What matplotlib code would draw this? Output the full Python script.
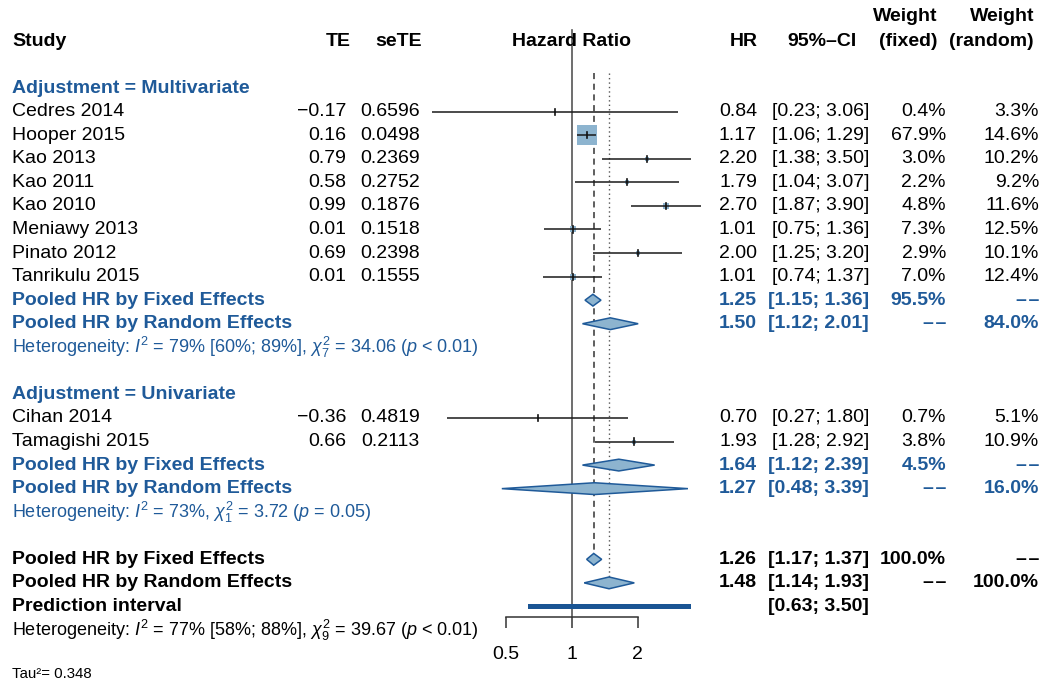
import matplotlib
matplotlib.use("Agg")
import matplotlib.pyplot as plt
import matplotlib.transforms as mtransforms
from matplotlib.patches import Polygon
import numpy as np

plt.rcParams['font.family'] = ['Liberation Sans', 'DejaVu Sans']
plt.rcParams['mathtext.fontset'] = 'custom'
plt.rcParams['mathtext.rm'] = 'Liberation Sans'
plt.rcParams['mathtext.it'] = 'Liberation Sans:italic'
plt.rcParams['mathtext.bf'] = 'Liberation Sans:bold'

# ---------------- data ----------------
studies = ["Cedres 2014", "Hooper 2015", "Kao 2013", "Kao 2011", "Kao 2010",
           "Meniawy 2013", "Pinato 2012", "Tanrikulu 2015",
           "Cihan 2014", "Tamagishi 2015"]
groups = ["Multivariate"] * 8 + ["Univariate"] * 2
te = ["\u22120.17", "0.16", "0.79", "0.58", "0.99", "0.01", "0.69", "0.01",
      "\u22120.36", "0.66"]
sete = ["0.6596", "0.0498", "0.2369", "0.2752", "0.1876", "0.1518", "0.2398",
        "0.1555", "0.4819", "0.2113"]
hr = [0.84, 1.17, 2.20, 1.79, 2.70, 1.01, 2.00, 1.01, 0.70, 1.93]
ci_lo = [0.23, 1.06, 1.38, 1.04, 1.87, 0.75, 1.25, 0.74, 0.27, 1.28]
ci_hi = [3.06, 1.29, 3.50, 3.07, 3.90, 1.36, 3.20, 1.37, 1.80, 2.92]
w_fixed = [0.4, 67.9, 3.0, 2.2, 4.8, 7.3, 2.9, 7.0, 0.7, 3.8]
w_random = [3.3, 14.6, 10.2, 9.2, 11.6, 12.5, 10.1, 12.4, 5.1, 10.9]

# subgroup pooled results: (HR, lo, hi, weight)
sub_names = ["Multivariate", "Univariate"]
sub_fixed = [(1.25, 1.15, 1.36, "95.5%"), (1.64, 1.12, 2.39, "4.5%")]
sub_random = [(1.50, 1.12, 2.01, "84.0%"), (1.27, 0.48, 3.39, "16.0%")]
sub_het = [r"Heterogeneity: $I^2$ = 79% [60%; 89%], $\chi^2_7$ = 34.06 ($p$ < 0.01)",
           r"Heterogeneity: $I^2$ = 73%, $\chi^2_1$ = 3.72 ($p$ = 0.05)"]

overall_fixed = (1.26, 1.17, 1.37)
overall_random = (1.48, 1.14, 1.93)
pred_interval = (0.63, 3.50)
overall_het = r"Heterogeneity: $I^2$ = 77% [58%; 88%], $\chi^2_9$ = 39.67 ($p$ < 0.01)"
tau2_text = "Tau\u00b2= 0.348"

xticks = [0.5, 1, 2]

# ---------------- style ----------------
BLUE = "#1f5a99"
SQ = "#8db4cf"
DI_FILL = "#8db4cf"
PRED = "#1a5594"
W, H = 1045, 684
FS = 14.0
FS_HET = 13.0
DASH2 = "\u2013\u200a\u2013"

fig = plt.figure(figsize=(W / 100, H / 100), dpi=100)
ax = fig.add_axes([0, 0, 1, 1])
ax.set_xscale('log', base=2)
x1_px, px_per_oct = 571.7, 66.0
ax.set_xlim(2 ** ((0 - x1_px) / px_per_oct), 2 ** ((W - x1_px) / px_per_oct))
y0_px, row_px = 41.0, 23.56
ax.set_ylim((H - y0_px) / row_px, -y0_px / row_px)
for s in ['top', 'left', 'right']:
    ax.spines[s].set_visible(False)
ax.patch.set_alpha(0)

trans = mtransforms.blended_transform_factory(fig.transFigure, ax.transData)


def col(xpx, y, s, ha='left', bold=False, color='black', fs=FS):
    ax.text(xpx / W, y, s, transform=trans, ha=ha, va='center',
            fontsize=fs, fontweight='bold' if bold else 'normal', color=color,
            clip_on=False)


# column anchors (pixels)
X_STUDY, X_TE, X_SE, X_HR, X_CI, X_WF, X_WR = 12, 346, 420, 757, 869, 946, 1039

# headers
col(X_STUDY, 0, "Study", bold=True)
col(351, 0, "TE", ha='right', bold=True)
col(422, 0, "seTE", ha='right', bold=True)
col(571, 0, "Hazard Ratio", ha='center', bold=True)
col(758, 0, "HR", ha='right', bold=True)
col(822, 0, "95%\u2013CI", ha='center', bold=True)
col(937, -1.06, "Weight", ha='right', bold=True)
col(937, 0, "(fixed)", ha='right', bold=True)
col(1034, -1.06, "Weight", ha='right', bold=True)
col(1034, 0, "(random)", ha='right', bold=True)


def diamond(y, est, lo, hi, h=0.25):
    poly = Polygon([[lo, y], [est, y - h], [hi, y], [est, y + h]], closed=True,
                   facecolor=DI_FILL, edgecolor=BLUE, linewidth=1.1, zorder=4)
    ax.add_patch(poly)


row = 2
for g, gname in enumerate(sub_names):
    col(X_STUDY, row, "Adjustment = " + gname, bold=True, color=BLUE)
    row += 1
    idx = [i for i in range(len(studies)) if groups[i] == gname]
    for i in idx:
        col(X_STUDY, row, studies[i])
        col(X_TE, row, te[i], ha='right')
        col(X_SE, row, sete[i], ha='right')
        col(X_HR, row, f"{hr[i]:.2f}", ha='right')
        col(X_CI, row, f"[{ci_lo[i]:.2f}; {ci_hi[i]:.2f}]", ha='right')
        col(X_WF, row, f"{w_fixed[i]:.1f}%", ha='right')
        col(X_WR, row, f"{w_random[i]:.1f}%", ha='right')
        ax.scatter([hr[i]], [row], marker='s', s=207 * w_fixed[i] / 67.9,
                   color=SQ, linewidths=0, zorder=3)
        ax.plot([ci_lo[i], ci_hi[i]], [row, row], color='#1a1a1a', lw=1.1,
                zorder=4, solid_capstyle='butt')
        ax.plot([hr[i], hr[i]], [row - 0.13, row + 0.13], color='#111111',
                lw=1.2, zorder=5)
        row += 1
    f = sub_fixed[g]
    r = sub_random[g]
    col(X_STUDY, row, "Pooled HR by Fixed Effects", bold=True, color=BLUE)
    col(X_HR, row, f"{f[0]:.2f}", ha='right', bold=True, color=BLUE)
    col(X_CI, row, f"[{f[1]:.2f}; {f[2]:.2f}]", ha='right', bold=True, color=BLUE)
    col(X_WF, row, f[3], ha='right', bold=True, color=BLUE)
    col(X_WR, row, DASH2, ha='right', bold=True, color=BLUE)
    diamond(row, f[0], f[1], f[2])
    row += 1
    col(X_STUDY, row, "Pooled HR by Random Effects", bold=True, color=BLUE)
    col(X_HR, row, f"{r[0]:.2f}", ha='right', bold=True, color=BLUE)
    col(X_CI, row, f"[{r[1]:.2f}; {r[2]:.2f}]", ha='right', bold=True, color=BLUE)
    col(X_WF, row, DASH2, ha='right', bold=True, color=BLUE)
    col(X_WR, row, r[3], ha='right', bold=True, color=BLUE)
    diamond(row, r[0], r[1], r[2])
    row += 1
    col(X_STUDY, row, sub_het[g], color=BLUE, fs=FS_HET)
    row += 2

# overall
col(X_STUDY, row, "Pooled HR by Fixed Effects", bold=True)
col(X_HR, row, f"{overall_fixed[0]:.2f}", ha='right', bold=True)
col(X_CI, row, f"[{overall_fixed[1]:.2f}; {overall_fixed[2]:.2f}]", ha='right', bold=True)
col(X_WF, row, "100.0%", ha='right', bold=True)
col(X_WR, row, DASH2, ha='right', bold=True)
diamond(row, *overall_fixed)
row_fixed = row
row += 1
col(X_STUDY, row, "Pooled HR by Random Effects", bold=True)
col(X_HR, row, f"{overall_random[0]:.2f}", ha='right', bold=True)
col(X_CI, row, f"[{overall_random[1]:.2f}; {overall_random[2]:.2f}]", ha='right', bold=True)
col(X_WF, row, DASH2, ha='right', bold=True)
col(X_WR, row, "100.0%", ha='right', bold=True)
diamond(row, *overall_random)
row_random = row
row += 1
col(X_STUDY, row, "Prediction interval", bold=True)
col(X_CI, row, f"[{pred_interval[0]:.2f}; {pred_interval[1]:.2f}]", ha='right', bold=True)
ax.barh([row], [pred_interval[1] - pred_interval[0]], left=pred_interval[0],
        height=0.2, color=PRED, zorder=4)
row += 1
col(X_STUDY, row, overall_het, fs=FS_HET)
tau_y = row + 1.85
col(X_STUDY, tau_y, tau2_text, fs=10.8)

# reference lines
axis_y = 24.45
ax.plot([1, 1], [-0.47, axis_y], color='#555555', lw=1.2, zorder=2)
ax.plot([overall_fixed[0]] * 2, [1.36, row_fixed - 0.25], color='#333333',
        lw=1.1, ls=(0, (4, 3)), zorder=2)
ax.plot([overall_random[0]] * 2, [1.36, row_random - 0.25], color='#555555',
        lw=1.0, ls=(0, (1, 2.2)), zorder=2)

# x axis
ax.spines['bottom'].set_position(('data', axis_y))
ax.spines['bottom'].set_bounds(xticks[0], xticks[-1])
ax.spines['bottom'].set_color('#333333')
ax.spines['bottom'].set_linewidth(1.1)
ax.set_xticks(xticks)
ax.set_xticklabels(["0.5", "1", "2"])
ax.minorticks_off()
ax.tick_params(axis='x', direction='out', length=8, width=1.1, color='#333333',
               labelsize=FS, pad=13)
ax.set_yticks([])

fig.savefig("out.png", dpi=100)
